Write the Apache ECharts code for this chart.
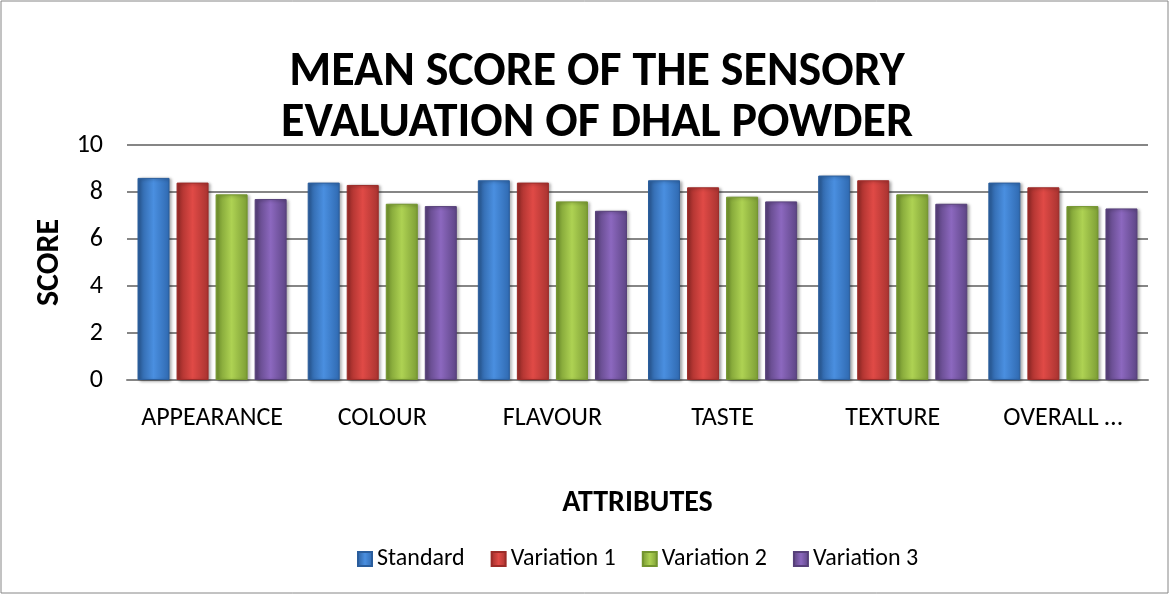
<!DOCTYPE html>
<html>
<head>
<meta charset="utf-8">
<script src="https://cdn.jsdelivr.net/npm/echarts@6/dist/echarts.min.js"></script>
<style>
    html, body { margin: 0; padding: 0; background: #fff; }
    #chart { width: 1171px; height: 595px; }
</style>
</head>
<body>
<div id="chart"></div>
<script>
var categories = ["APPEARANCE", "COLOUR", "FLAVOUR", "TASTE", "TEXTURE", "OVERALL ACCEPTABILITY"];
var seriesNames = ["Standard", "Variation 1", "Variation 2", "Variation 3"];
var standard = [8.6, 8.4, 8.5, 8.5, 8.7, 8.4];
var variation1 = [8.4, 8.3, 8.4, 8.2, 8.5, 8.2];
var variation2 = [7.9, 7.5, 7.6, 7.8, 7.9, 7.4];
var variation3 = [7.7, 7.4, 7.2, 7.6, 7.5, 7.3];
var yTicks = [0, 2, 4, 6, 8, 10];

// colour stops for the bevelled bars: edge, middle, edge
var barColors = [
    ["#2a5d9c", "#4a8fe0", "#2f69b0"],
    ["#9c2b28", "#e04a46", "#a83330"],
    ["#73952e", "#aed253", "#7c9d35"],
    ["#57407a", "#8c68bf", "#5d4585"]
];
var allValues = [standard, variation1, variation2, variation3];

var fontFamily = "Carlito, 'Open Sans', 'Liberation Sans', sans-serif";

function grad(c) {
    return new echarts.graphic.LinearGradient(0, 0, 1, 0, [
        { offset: 0, color: c[0] },
        { offset: 0.5, color: c[1] },
        { offset: 1, color: c[2] }
    ]);
}

var chart = echarts.init(document.getElementById("chart"));
chart.setOption({
    backgroundColor: "#fff",
    animation: false,
    title: {
        text: "MEAN SCORE OF THE SENSORY\nEVALUATION OF DHAL POWDER",
        left: 592,
        textAlign: "center",
        top: 42,
        textStyle: {
            fontFamily: fontFamily,
            fontSize: 48,
            fontWeight: "bold",
            color: "#000",
            lineHeight: 51
        }
    },
    legend: {
        data: seriesNames,
        bottom: 19,
        left: 352,
        itemWidth: 14,
        itemHeight: 14,
        itemGap: 26,
        icon: "rect",
        textStyle: { fontFamily: fontFamily, fontSize: 24, color: "#000" }
    },
    grid: { left: 127, right: 23, top: 145, bottom: 215, containLabel: false },
    xAxis: {
        type: "category",
        data: categories,
        name: "ATTRIBUTES",
        nameLocation: "middle",
        nameGap: 108,
        nameTextStyle: { fontFamily: fontFamily, fontSize: 30, fontWeight: "bold", color: "#000" },
        axisLine: { lineStyle: { color: "#868686", width: 2 } },
        axisTick: { show: false },
        axisLabel: {
            interval: 0,
            fontFamily: fontFamily, fontSize: 26, color: "#000", margin: 25,
            formatter: function(v) { return v.length > 12 ? v.slice(0, 8) + "…" : v; }
        }
    },
    yAxis: {
        type: "value",
        min: 0,
        max: 10,
        interval: 2,
        name: "SCORE",
        nameLocation: "middle",
        nameGap: 61,
        nameRotate: 90,
        nameTextStyle: { fontFamily: fontFamily, fontSize: 32, fontWeight: "bold", color: "#000" },
        axisLine: { show: false },
        axisTick: { show: false },
        splitLine: { lineStyle: { color: "#868686", width: 2 } },
        axisLabel: {
            fontFamily: fontFamily, fontSize: 26, color: "#000", margin: 24,
            formatter: function(v) { return yTicks.indexOf(v) >= 0 ? String(v) : ""; }
        }
    },
    series: seriesNames.map(function(name, i) {
        return {
            name: name,
            type: "bar",
            data: allValues[i],
            barWidth: 32,
            barGap: "22%",
            itemStyle: {
                color: grad(barColors[i]),
                borderColor: barColors[i][0],
                borderWidth: 1,
                shadowColor: "rgba(0,0,0,0.35)",
                shadowBlur: 3,
                shadowOffsetX: 2,
                shadowOffsetY: 1
            }
        };
    }),
    graphic: [{
        type: "rect",
        shape: { x: 1, y: 1, width: 1167, height: 592 },
        style: { fill: "none", stroke: "#868686", lineWidth: 1 },
        silent: true
    }]
});
</script>
</body>
</html>
